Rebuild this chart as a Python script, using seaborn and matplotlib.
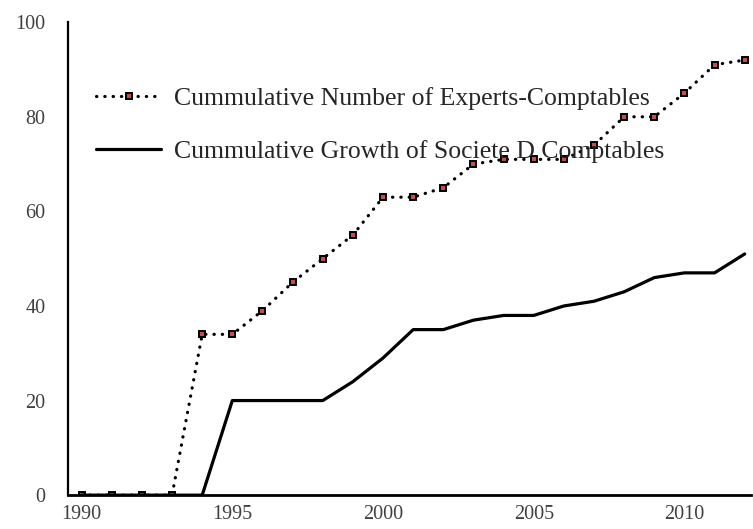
import matplotlib
matplotlib.use("Agg")
import matplotlib.pyplot as plt
import seaborn as sns
import pandas as pd

years = list(range(1990, 2013))
experts = [0, 0, 0, 0, 34, 34, 39, 45, 50, 55, 63, 63, 65, 70, 71, 71, 71, 74, 80, 80, 85, 91, 92]
societes = [0, 0, 0, 0, 0, 20, 20, 20, 20, 24, 29, 35, 35, 37, 38, 38, 40, 41, 43, 46, 47, 47, 51]
label_experts = "Cummulative Number of Experts-Comptables"
label_societes = "Cummulative Growth of Societe D Comptables"
x_ticks = [1990, 1995, 2000, 2005, 2010]
y_ticks = [0, 20, 40, 60, 80, 100]

sns.set_style("white")
plt.rcParams["font.family"] = ["Liberation Serif", "DejaVu Serif"]

df = pd.DataFrame({"year": years, "experts": experts, "societes": societes})

fig = plt.figure(figsize=(7.53, 5.29), dpi=100)
ax = fig.add_axes([0.090, 0.064, 0.907, 0.894])

sns.lineplot(data=df, x="year", y="experts", ax=ax, color="black",
             linestyle=(0, (0.1, 2.5)), dash_capstyle="round", linewidth=2.3,
             marker="s", markersize=4.0, markerfacecolor="#c0504d",
             markeredgecolor="black", markeredgewidth=1.4,
             label=label_experts)
sns.lineplot(data=df, x="year", y="societes", ax=ax, color="black",
             linewidth=2.3, label=label_societes)

ax.set_xlim(1989.54, 2012.2)
ax.set_ylim(0, 100)
ax.set_xticks(x_ticks)
ax.set_yticks(y_ticks)
ax.set_xlabel("")
ax.set_ylabel("")
ax.tick_params(axis="y", length=0, pad=16, labelsize=14.5, labelcolor="#404040")
ax.tick_params(axis="x", length=0, pad=7, labelsize=14.5, labelcolor="#404040")

for side in ("top", "right"):
    ax.spines[side].set_visible(False)
ax.spines["left"].set_color("black")
ax.spines["left"].set_linewidth(1.6)
ax.spines["bottom"].set_color("black")
ax.spines["bottom"].set_linewidth(2.0)

ax.legend(loc="upper left", bbox_to_anchor=(0.042, 0.862), frameon=False,
          borderaxespad=0, borderpad=0,
          fontsize=18.5, handlelength=2.5, handletextpad=0.5, labelspacing=1.15,
          numpoints=1, labelcolor="#262626")

fig.savefig("out.png", dpi=100)
